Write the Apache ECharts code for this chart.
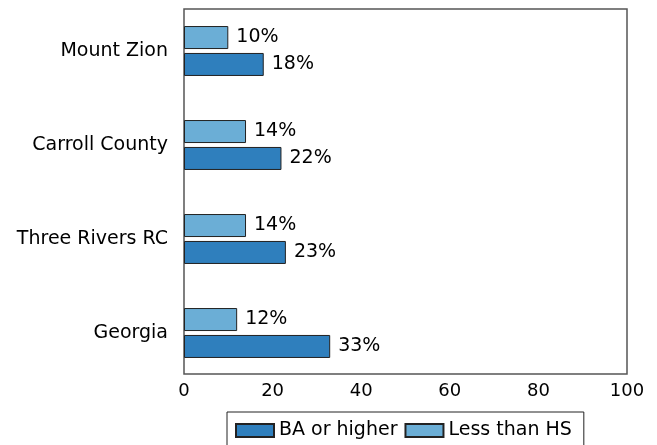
<!DOCTYPE html>
<html>
<head>
<meta charset="utf-8">
<script src="https://cdn.jsdelivr.net/npm/echarts@6/dist/echarts.min.js"></script>
<style>
    html, body { margin: 0; padding: 0; background: #fff; }
    #chart { width: 657px; height: 445px; }
</style>
</head>
<body>
<div id="chart"></div>
<script>
// data, bottom to top like the picture
const categories = ['Georgia', 'Three Rivers RC', 'Carroll County', 'Mount Zion'];
const baOrHigher = [33, 23, 22, 18];
const lessThanHS = [12, 14, 14, 10];
const xTicks = [0, 20, 40, 60, 80, 100];

const font = 'DejaVu Sans';
const chart = echarts.init(document.getElementById('chart'));

chart.setOption({
    animation: false,
    textStyle: { fontFamily: font },
    legend: {
        left: 227,
        top: 412,
        data: ['BA or higher', 'Less than HS'],
        icon: 'rect',
        itemWidth: 38,
        itemHeight: 13,
        itemGap: 7,
        padding: [9, 12, 12, 8],
        borderColor: '#222',
        borderWidth: 1,
        borderRadius: 0,
        textStyle: { fontSize: 19, color: '#000', fontFamily: font }
    },
    grid: [
        // frame with x ticks
        { left: 184, top: 9, width: 443, height: 365, show: true, borderColor: '#555', borderWidth: 1.5, backgroundColor: 'transparent' },
        // bars
        { left: 184, top: 4, width: 443, height: 376 }
    ],
    xAxis: [
        {
            gridIndex: 0, type: 'value', min: xTicks[0], max: xTicks[xTicks.length - 1], interval: 20,
            axisLine: { show: false }, axisTick: { show: false }, splitLine: { show: false },
            axisLabel: { fontSize: 18, color: '#000', margin: 8, fontFamily: font }
        },
        {
            gridIndex: 1, type: 'value', min: 0, max: 100,
            show: false
        }
    ],
    yAxis: [
        { gridIndex: 0, type: 'value', show: false },
        {
            gridIndex: 1, type: 'category', data: categories,
            axisLine: { show: false }, axisTick: { show: false },
            axisLabel: { fontSize: 19, color: '#000', margin: 16, fontFamily: font }
        }
    ],
    series: [
        // first series sits on top within each band
        {
            name: 'Less than HS',
            type: 'bar',
            xAxisIndex: 1,
            yAxisIndex: 1,
            data: lessThanHS,
            barWidth: 23,
            barGap: '17%',
            itemStyle: { color: '#6baed6', borderColor: '#222', borderWidth: 1 },
            label: { show: true, position: 'right', distance: 8, formatter: '{c}%', fontSize: 19, color: '#000', fontFamily: font }
        },
        {
            name: 'BA or higher',
            type: 'bar',
            xAxisIndex: 1,
            yAxisIndex: 1,
            data: baOrHigher,
            barWidth: 23,
            barGap: '17%',
            itemStyle: { color: '#2f7fbd', borderColor: '#222', borderWidth: 1 },
            label: { show: true, position: 'right', distance: 8, formatter: '{c}%', fontSize: 19, color: '#000', fontFamily: font }
        }
    ]
});
</script>
</body>
</html>
